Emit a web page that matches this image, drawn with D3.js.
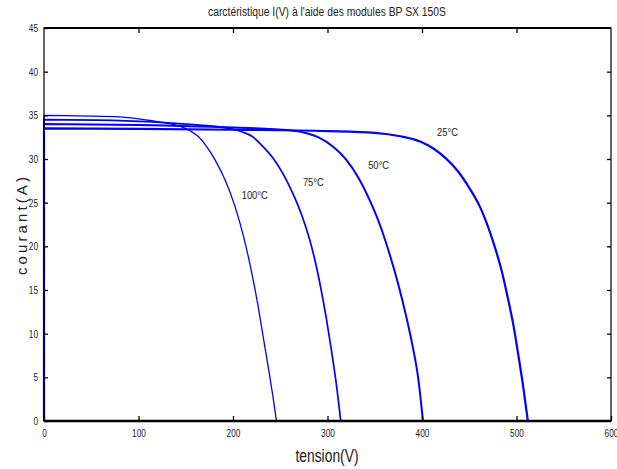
<!DOCTYPE html>
<html lang="fr">
<head>
<meta charset="utf-8">
<title>I(V) BP SX 150S</title>
<script src="https://d3js.org/d3.v7.min.js"></script>
<style>
  body { margin: 0; background: #fff; }
  text { font-family: "Liberation Sans", Arial, sans-serif; }
</style>
</head>
<body>
<svg id="chart" width="617" height="469"></svg>
<script>
// tension (V) / courant (A), one pair of arrays per temperature
var temps = ["25°C", "50°C", "75°C", "100°C"];

var v25 = [0, 0, 100, 200, 300, 350, 377, 398, 412, 425, 438, 450, 461, 470, 478, 485, 491, 497, 502, 507, 512];
var i25 = [0, 33.5, 33.45, 33.35, 33.2, 33.0, 32.6, 32.0, 31.2, 30.1, 28.6, 26.7, 24.6, 22.2, 19.6, 16.9, 14.0, 10.8, 7.5, 4.0, 0];

var v50 = [0, 0, 100, 200, 260, 280, 290, 306, 320, 333, 345, 356, 366, 375, 383, 390, 396, 401];
var i50 = [0, 34.0, 33.9, 33.6, 33.3, 32.9, 32.5, 31.4, 29.9, 27.8, 25.2, 22.3, 19.0, 15.6, 12.1, 8.6, 4.9, 0];

var v75 = [0, 0, 80, 150, 195, 210, 220, 231, 243, 254, 264, 273, 281, 288, 294, 299, 304, 309, 314];
var i75 = [0, 34.5, 34.4, 34.0, 33.5, 33.1, 32.6, 31.5, 30.0, 28.1, 25.9, 23.5, 20.8, 17.8, 14.6, 11.6, 8.2, 4.5, 0];

var v100 = [0, 0, 75, 100, 125, 145, 155, 163, 171, 181, 192, 202, 211, 219, 226, 232, 238, 242, 246];
var i100 = [0, 35.0, 34.85, 34.6, 34.2, 33.7, 33.2, 32.6, 31.6, 29.9, 27.5, 24.6, 21.2, 17.4, 13.5, 9.6, 5.7, 3.0, 0];

// where each temperature label sits, in data units
var labelV = [427, 354, 285, 223];
var labelI = [33.1, 29.3, 27.4, 25.9];

var xTicks = [0, 100, 200, 300, 400, 500, 600];
var yTicks = [0, 5, 10, 15, 20, 25, 30, 35, 40, 45];

var seriesV = [v25, v50, v75, v100];
var seriesI = [i25, i50, i75, i100];
var widths = [2.2, 2, 1.7, 1.3];

var svg = d3.select("#chart");
// note: "top" is taken by window.top, so margins get their own names
var pl = 44, pr = 611, pt = 28, pb = 421;

var x = d3.scaleLinear().domain([0, 600]).range([pl, pr]);
var y = d3.scaleLinear().domain([0, 45]).range([pb, pt]);

// squeeze text to mimic the narrow font of the original
function narrow(sel, perChar) {
  sel.each(function () {
    var t = d3.select(this), s = t.text();
    if (s) t.attr("textLength", s.length * perChar).attr("lengthAdjust", "spacingAndGlyphs");
  });
}

// curves
var line = d3.line()
  .x(function (d) { return x(d[0]); })
  .y(function (d) { return y(d[1]); })
  .curve(d3.curveMonotoneX);

seriesV.forEach(function (vs, k) {
  var pts = vs.map(function (v, j) { return [v, seriesI[k][j]]; });
  // first point is (0,0): vertical jump up to Isc, then the smooth curve
  var p = "M" + x(pts[0][0]) + "," + y(pts[0][1]) + "L" + line(pts.slice(1)).slice(1);
  svg.append("path")
    .attr("d", p)
    .attr("fill", "none")
    .attr("stroke", "#0000ff")
    .attr("stroke-width", widths[k]);
});

// frame (matlab box)
svg.append("rect")
  .attr("x", pl).attr("y", pt)
  .attr("width", pr - pl).attr("height", pb - pt)
  .attr("fill", "none").attr("stroke", "#000").attr("stroke-width", 1.2);
svg.append("line").attr("x1", pl).attr("x2", pr).attr("y1", pb).attr("y2", pb)
  .attr("stroke", "#000").attr("stroke-width", 2.4);
svg.append("line").attr("x1", pl).attr("x2", pr).attr("y1", pt).attr("y2", pt)
  .attr("stroke", "#000").attr("stroke-width", 2);

// axes, ticks pointing inward
var xAxis = svg.append("g").attr("transform", "translate(0," + pb + ")")
  .call(d3.axisBottom(x).tickValues(xTicks).tickSizeInner(-5).tickSizeOuter(0).tickPadding(8));
var xTop = svg.append("g").attr("transform", "translate(0," + pt + ")")
  .call(d3.axisTop(x).tickValues(xTicks.slice(1, -1)).tickSizeInner(-5).tickSizeOuter(0).tickFormat(""));
var yAxis = svg.append("g").attr("transform", "translate(" + pl + ",0)")
  .call(d3.axisLeft(y).tickValues(yTicks).tickSizeInner(-4).tickSizeOuter(0).tickPadding(6));
var yRight = svg.append("g").attr("transform", "translate(" + pr + ",0)")
  .call(d3.axisRight(y).tickValues(yTicks.slice(1, -1)).tickSizeInner(-4).tickSizeOuter(0).tickFormat(""));

[xAxis, xTop, yAxis, yRight].forEach(function (g) {
  g.select(".domain").remove();
  g.selectAll("line").attr("stroke", "#000").attr("stroke-width", 1.3);
  g.selectAll("text").attr("font-size", 11).attr("fill", "#222")
    .style("font-family", '"Liberation Sans", Arial, sans-serif')
    .call(narrow, 4.6);
});

// temperature labels
temps.forEach(function (t, k) {
  svg.append("text")
    .attr("x", x(labelV[k])).attr("y", y(labelI[k]))
    .attr("text-anchor", "middle").attr("dy", "0.35em")
    .attr("font-size", 11.5).attr("fill", "#222")
    .text(t)
    .call(narrow, 5.2);
});

// title and axis labels
svg.append("text")
  .attr("x", 327).attr("y", 16)
  .attr("text-anchor", "middle").attr("font-size", 12).attr("fill", "#222")
  .attr("textLength", 238).attr("lengthAdjust", "spacingAndGlyphs")
  .text("carctéristique I(V) à l'aide des modules BP SX 150S");

svg.append("text")
  .attr("x", 327).attr("y", 462)
  .attr("text-anchor", "middle").attr("font-size", 18).attr("fill", "#222")
  .attr("textLength", 63).attr("lengthAdjust", "spacingAndGlyphs")
  .text("tension(V)");

svg.append("text")
  .attr("transform", "translate(27,226) rotate(-90)")
  .attr("text-anchor", "middle").attr("font-size", 15).attr("fill", "#222")
  .attr("textLength", 98).attr("lengthAdjust", "spacing")
  .text("courant(A)");
</script>
</body>
</html>
